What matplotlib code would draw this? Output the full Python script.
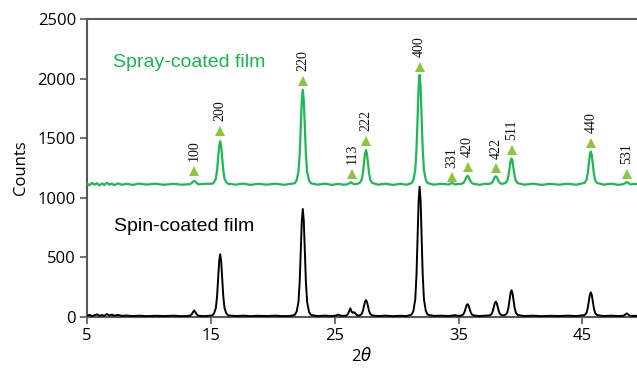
import matplotlib
matplotlib.use("Agg")
import matplotlib.pyplot as plt

# ---------------- data (2theta, counts) ----------------
spin_profile = [
    (5.0, 10), (5.2, 18), (5.4, 8), (5.6, 14), (5.8, 22), (6.0, 10), (6.2, 16), (6.4, 9),
    (6.6, 25), (6.8, 12), (7.0, 20), (7.2, 10), (7.5, 18), (7.8, 9), (8.2, 12), (8.7, 8),
    (9.2, 11), (9.8, 7), (10.5, 10), (11.2, 8), (12.0, 11), (12.6, 7),
    (13.3, 10), (13.45, 22), (13.55, 40), (13.65, 55), (13.75, 40), (13.85, 22), (14.0, 10),
    (14.5, 7), (15.1, 13), (15.25, 29), (15.4, 75), (15.5, 174), (15.59, 329), (15.67, 469),
    (15.75, 526), (15.83, 469), (15.91, 329), (16.0, 174), (16.1, 75), (16.25, 29), (16.4, 13),
    (17.0, 8), (17.6, 11), (18.2, 7), (18.8, 10), (19.5, 8), (20.2, 11), (20.9, 7), (21.4, 9),
    (21.77, 17), (21.92, 44), (22.07, 125), (22.17, 295), (22.26, 565), (22.34, 807),
    (22.42, 906), (22.50, 807), (22.58, 565), (22.67, 295), (22.77, 125), (22.92, 44), (23.07, 17),
    (23.6, 8), (24.2, 11), (24.8, 8), (25.1, 12), (25.3, 20), (25.5, 10),
    (25.9, 10), (26.05, 22), (26.16, 50), (26.26, 73), (26.36, 45), (26.46, 35), (26.56, 40),
    (26.66, 30), (26.8, 15), (26.95, 12),
    (27.02, 13), (27.17, 25), (27.27, 51), (27.36, 91), (27.44, 127), (27.52, 142), (27.60, 127),
    (27.68, 91), (27.77, 51), (27.87, 25), (28.02, 13),
    (28.5, 8), (29.1, 11), (29.7, 7), (30.3, 10), (30.8, 8),
    (31.2, 19), (31.35, 51), (31.5, 149), (31.6, 355), (31.69, 681), (31.77, 974), (31.85, 1093),
    (31.93, 974), (32.01, 681), (32.1, 355), (32.2, 149), (32.35, 51), (32.5, 19),
    (33.0, 9), (33.6, 11), (34.2, 8), (34.7, 15), (35.0, 9),
    (35.22, 12), (35.37, 21), (35.47, 40), (35.56, 70), (35.64, 97), (35.72, 108), (35.80, 97),
    (35.88, 70), (35.97, 40), (36.07, 21), (36.22, 12),
    (36.7, 8), (37.1, 11),
    (37.5, 13), (37.65, 24), (37.75, 46), (37.84, 82), (37.92, 115), (38.0, 128), (38.08, 115),
    (38.16, 82), (38.25, 46), (38.35, 24), (38.5, 13),
    (38.77, 17), (38.92, 36), (39.02, 77), (39.11, 142), (39.19, 200), (39.27, 224), (39.35, 200),
    (39.43, 142), (39.52, 77), (39.62, 36), (39.77, 17),
    (40.3, 8), (41.0, 11), (41.7, 7), (42.4, 10), (43.1, 8), (43.8, 11), (44.5, 8),
    (45.17, 16), (45.32, 34), (45.42, 72), (45.51, 131), (45.59, 185), (45.67, 207), (45.75, 185),
    (45.83, 131), (45.92, 72), (46.02, 34), (46.17, 16),
    (46.7, 8), (47.3, 11), (47.9, 8),
    (48.3, 10), (48.45, 20), (48.57, 30), (48.7, 20), (48.85, 10),
    (49.4, 9),
]

spray_profile = [
    (5.0, 1118), (5.2, 1106), (5.4, 1124), (5.6, 1110), (5.8, 1122), (6.0, 1104), (6.2, 1120),
    (6.4, 1108), (6.6, 1126), (6.8, 1110), (7.0, 1119), (7.2, 1106), (7.5, 1121), (7.8, 1110),
    (8.2, 1117), (8.7, 1108), (9.2, 1119), (9.8, 1111), (10.5, 1118), (11.2, 1109), (12.0, 1117),
    (12.6, 1110),
    (13.3, 1114), (13.45, 1124), (13.55, 1135), (13.65, 1142), (13.75, 1135), (13.85, 1124),
    (14.0, 1113),
    (14.5, 1117), (15.1, 1118), (15.25, 1128), (15.4, 1161), (15.5, 1230), (15.59, 1338),
    (15.67, 1435), (15.75, 1475), (15.83, 1435), (15.91, 1338), (16.0, 1230), (16.1, 1161),
    (16.25, 1128), (16.4, 1118),
    (17.0, 1110), (17.6, 1119), (18.2, 1108), (18.8, 1117), (19.5, 1110), (20.2, 1118),
    (20.9, 1109), (21.4, 1116),
    (21.77, 1122), (21.92, 1146), (22.07, 1217), (22.17, 1367), (22.26, 1604), (22.34, 1818),
    (22.42, 1905), (22.50, 1818), (22.58, 1604), (22.67, 1367), (22.77, 1217), (22.92, 1146),
    (23.07, 1122),
    (23.6, 1110), (24.2, 1118), (24.8, 1108), (25.3, 1117), (25.7, 1110),
    (26.0, 1112), (26.15, 1120), (26.3, 1130), (26.45, 1120), (26.6, 1114), (26.85, 1118),
    (27.02, 1125), (27.17, 1151), (27.27, 1206), (27.36, 1291), (27.44, 1369), (27.52, 1400),
    (27.60, 1369), (27.68, 1291), (27.77, 1206), (27.87, 1151), (28.02, 1125),
    (28.5, 1110), (29.1, 1118), (29.7, 1108), (30.3, 1117), (30.8, 1110),
    (31.2, 1123), (31.35, 1151), (31.5, 1233), (31.6, 1407), (31.69, 1682), (31.77, 1929),
    (31.85, 2030), (31.93, 1929), (32.01, 1682), (32.1, 1407), (32.2, 1233), (32.35, 1151),
    (32.5, 1123),
    (33.0, 1110), (33.6, 1117), (34.2, 1112), (34.46, 1124), (34.7, 1112), (35.0, 1116),
    (35.22, 1117), (35.37, 1123), (35.47, 1136), (35.56, 1157), (35.64, 1176), (35.72, 1184),
    (35.80, 1176), (35.88, 1157), (35.97, 1136), (36.07, 1123), (36.22, 1117),
    (36.7, 1109), (37.1, 1117),
    (37.5, 1117), (37.65, 1123), (37.75, 1135), (37.84, 1155), (37.92, 1173), (38.0, 1180),
    (38.08, 1173), (38.16, 1155), (38.25, 1135), (38.35, 1123), (38.5, 1117),
    (38.77, 1123), (38.92, 1142), (39.02, 1183), (39.11, 1248), (39.19, 1306), (39.27, 1330),
    (39.35, 1306), (39.43, 1248), (39.52, 1183), (39.62, 1142), (39.77, 1123),
    (40.3, 1110), (41.0, 1118), (41.7, 1108), (42.4, 1117), (43.1, 1110), (43.8, 1118),
    (44.5, 1110),
    (45.17, 1125), (45.32, 1150), (45.42, 1202), (45.51, 1284), (45.59, 1358), (45.67, 1388),
    (45.75, 1358), (45.83, 1284), (45.92, 1202), (46.02, 1150), (46.17, 1125),
    (46.7, 1110), (47.3, 1118), (47.9, 1109),
    (48.3, 1114), (48.45, 1124), (48.57, 1132), (48.7, 1124), (48.85, 1113),
    (49.4, 1116),
]

hkl_labels = ['100', '200', '220', '113', '222', '400',
              '331', '420', '422', '511', '440', '531']
hkl_x = [13.65, 15.75, 22.45, 26.4, 27.52, 31.85,
         34.46, 35.72, 38.0, 39.27, 45.67, 48.6]
hkl_y = [1227, 1563, 1982, 1200, 1476, 2100,
         1172, 1261, 1247, 1401, 1462, 1200]

x_ticks = [5, 15, 25, 35, 45]
y_ticks = [0, 500, 1000, 1500, 2000, 2500]

spin_x = [p[0] for p in spin_profile]
spin_y = [p[1] for p in spin_profile]
spray_x = [p[0] for p in spray_profile]
spray_y = [p[1] for p in spray_profile]

# ---------------- style ----------------
GREEN_LINE = '#1db954'
GREEN_TEXT = '#16b94f'
TRI = '#8cc63f'
AX_GRAY = '#595959'

plt.rcParams['font.family'] = ['Open Sans', 'DejaVu Sans']

fig = plt.figure(figsize=(6.37, 3.69), dpi=100)
ax = fig.add_axes([0.1366, 0.141, 0.8634, 0.8075])

ax.plot(spray_x, spray_y, color=GREEN_LINE, lw=1.6, zorder=3)
ax.plot(spin_x, spin_y, color='black', lw=1.4, zorder=3)
ax.plot(hkl_x, hkl_y, linestyle='none', marker='^', markersize=7,
        color=TRI, markeredgewidth=0, zorder=4)
for lab, xx, yy in zip(hkl_labels, hkl_x, hkl_y):
    ax.annotate(lab, (xx, yy), xytext=(0, 7), textcoords='offset points',
                rotation=90, ha='center', va='bottom',
                family='Liberation Serif', fontsize=10, color='#111111')

ax.text(7.1, 2135, 'Spray-coated film', color=GREEN_TEXT,
        family='Liberation Sans', fontsize=14, va='center', ha='left')
ax.text(7.2, 757, 'Spin-coated film', color='black',
        family='Liberation Sans', fontsize=14, va='center', ha='left')

ax.set_xlim(5, 49.4)
ax.set_ylim(0, 2500)
ax.set_xticks(x_ticks)
ax.set_yticks(y_ticks)
ax.tick_params(axis='both', direction='out', length=5, width=1.2,
               color=AX_GRAY, labelsize=12, pad=3)
for s in ['left', 'top', 'bottom']:
    ax.spines[s].set_color(AX_GRAY)
    ax.spines[s].set_linewidth(1.5)
ax.spines['right'].set_visible(False)

ax.set_ylabel('Counts', fontsize=12, labelpad=6)
ax.set_xlabel(r'2$\theta$', fontsize=12, labelpad=2)

fig.savefig('out.png', dpi=100)
